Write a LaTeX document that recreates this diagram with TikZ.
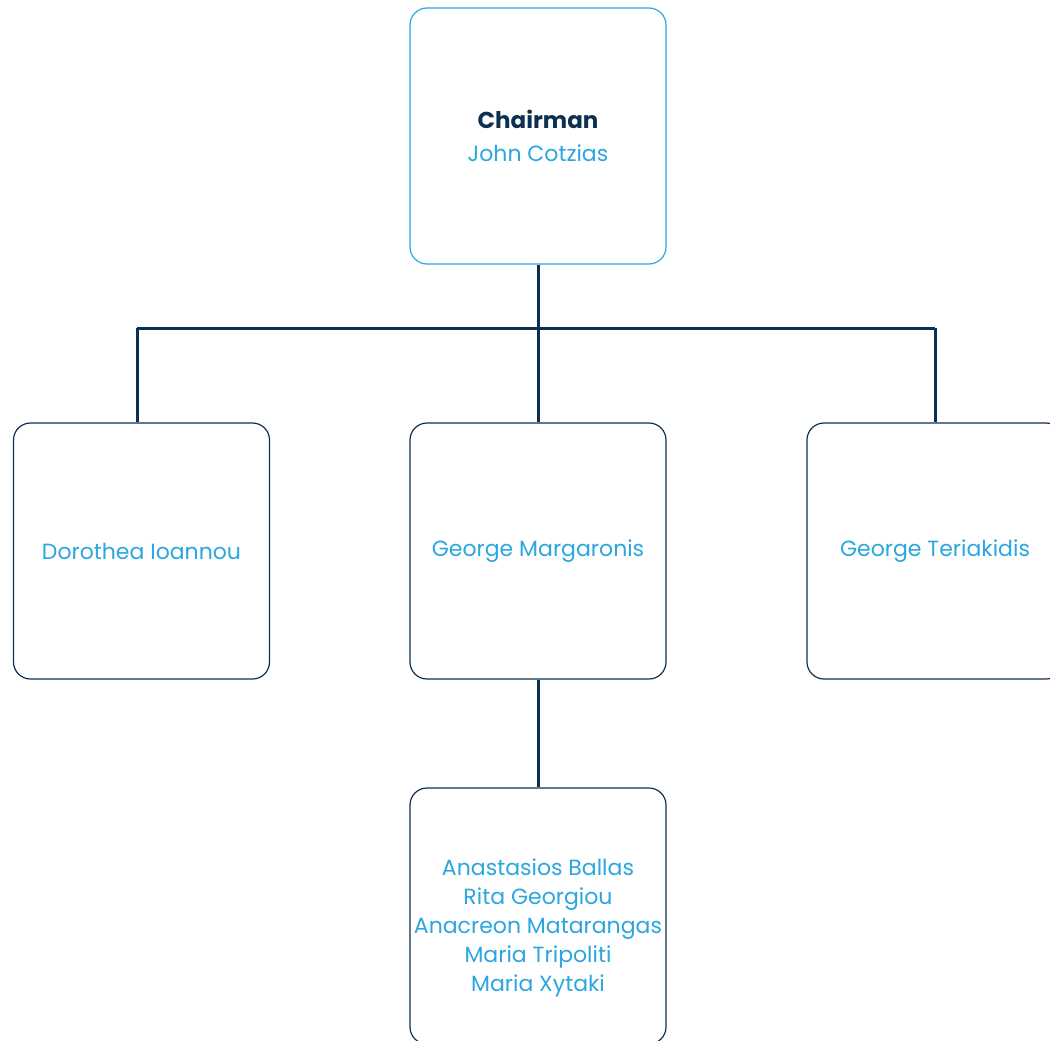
\documentclass[tikz,border=0pt]{standalone}
\usepackage{fontspec}
\setmainfont{Poppins}
\definecolor{navy}{HTML}{0D3050}
\definecolor{lblue}{HTML}{2BA6DE}
\begin{document}
\begin{tikzpicture}[x=1pt,y=-1pt,
  box/.style={draw=navy, line width=1.2pt, rounded corners=17pt, minimum width=256pt, minimum height=256pt, inner sep=0pt, align=center, text=lblue, font=\fontsize{22}{29}\selectfont},
  txt/.style={align=center, text=lblue, font=\fontsize{22}{29}\selectfont, inner sep=0pt},
  conn/.style={draw=navy, line width=3pt}]
\useasboundingbox (0,0) rectangle (1050,1041);
\node[box, draw=lblue, font=\fontsize{22}{33}\selectfont] (chair) at (538,136) {{\fontsize{23}{33}\selectfont\bfseries\color{navy}Chairman}\\John Cotzias};
\node[box] (dor) at (141.5,551) {Dorothea Ioannou};
\node[box] (mar) at (538,551) {George Margaronis};
\node[box] (ter) at (935,551) {George Teriakidis};
\node[box] (team) at (538,916) {};
\node[txt] (list) at (538,928) {Anastasios Ballas\\Rita Georgiou\\Anacreon Matarangas\\Maria Tripoliti\\Maria Xytaki};
\coordinate (bus) at (538,328);
\coordinate (bl) at (137,328);
\coordinate (br) at (935,328);
\draw[conn] (chair.south) -- (bus);
\draw[conn] (bl) -- (br);
\draw[conn] (bl) -- (bl |- dor.north);
\draw[conn] (bus) -- (mar.north);
\draw[conn] (br) -- (ter.north);
\draw[conn] (mar.south) -- (team.north);
\end{tikzpicture}
\end{document}
